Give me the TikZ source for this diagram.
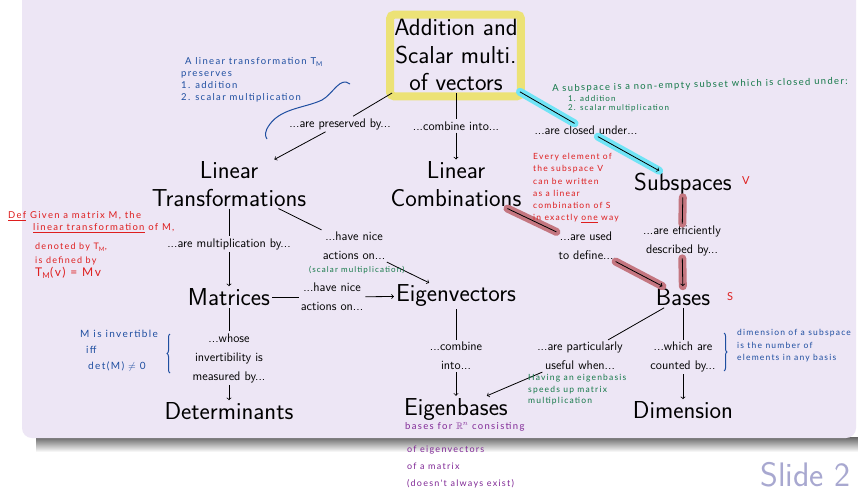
\documentclass[tikz,border=0pt]{standalone}
\usepackage{amsmath,amssymb}
\usepackage{fontspec}
\usetikzlibrary{positioning,decorations.pathreplacing}
\newfontfamily\handfont[LetterSpace=14]{Lato}
\definecolor{slidebg}{RGB}{237,230,245}
\definecolor{slidenum}{RGB}{168,168,208}
\definecolor{hlyellow}{RGB}{236,226,118}
\definecolor{hlcyan}{RGB}{112,228,246}
\definecolor{hlred}{RGB}{196,118,128}
\definecolor{noteblue}{RGB}{30,78,160}
\definecolor{notegreen}{RGB}{20,120,72}
\definecolor{notered}{RGB}{222,30,30}
\definecolor{notepurple}{RGB}{128,40,150}
\tikzset{
  concept/.style={font=\sffamily\fontsize{24.5}{27.5}\selectfont, align=center, inner sep=2pt},
  link/.style={font=\sffamily\fontsize{12.5}{19}\selectfont, align=center, inner sep=2pt},
  note/.style={font=\handfont\fontsize{9.5}{12}\selectfont, align=left, anchor=west, inner sep=0pt},
  hl/.style={line width=8pt, line cap=round},
}
\newcommand{\conn}[3]{ \draw[line width=0.8pt] (#1) -- (#2); \draw[line width=0.8pt, ->] (#2) -- (#3);}
\newcommand{\hilite}[3]{ \draw[hl, #1] (#2) -- (#3);}
\begin{document}
\begin{tikzpicture}[x=1pt, y=-1pt]
        \useasboundingbox (0,0) rectangle (858,492);
        % slide
        \fill[white] (0,0) rectangle (858,492);
        \shade[top color=black!60, bottom color=white] (36,437) rectangle (858,452);
        \fill[slidebg, rounded corners=10pt] (22,-20) rectangle (856,438);
        \node[font=\sffamily\fontsize{34}{40}\selectfont, text=slidenum, anchor=east, inner sep=0pt] (slide) at (851,475) {Slide 2};
        % concepts
        \node[concept] (vec) at (456,55) {Addition and\\Scalar multi.\\of vectors};
        \node[concept] (lt) at (229,184) {Linear\\Transformations};
        \node[concept] (lc) at (456,184) {Linear\\Combinations};
        \node[concept] (sub) at (683,184) {Subspaces};
        \node[concept] (mat) at (229,297) {Matrices};
        \node[concept] (eig) at (456,296) {Eigenvectors};
        \node[concept] (bas) at (683,297) {Bases};
        \node[concept] (det) at (229,411) {Determinants};
        \node[concept] (eb) at (456,409) {Eigenbases};
        \node[concept] (dim) at (683,410) {Dimension};
        % links
        \node[link] (pres) at (340,124) {...are preserved by...};
        \node[link] (comb) at (456,126) {...combine into...};
        \node[link] (clos) at (586,130) {...are closed under...};
        \node[link] (mult) at (229,244) {...are multiplication by...};
        \node[link] (nice) at (354,246) {...have nice\\actions on...};
        \node[link] (nicem) at (332,297) {...have nice\\actions on...};
        \node[link] (used) at (586,246) {...are used\\to define...};
        \node[link] (eff) at (682,241) {...are efficiently\\described by...};
        \node[link] (inv) at (229,358) {...whose\\invertibility is\\measured by...};
        \node[link] (combe) at (456,356) {...combine\\into...};
        \node[link] (useful) at (580,356) {...are particularly\\useful when...};
        \node[link] (count) at (683,357) {...which are\\counted by...};
        % highlights
        \draw[hlyellow, line width=8pt, rounded corners=4pt] ([shift={(-2,3)}]vec.south west) rectangle ([shift={(1,-2)}]vec.north east);
        \hilite{hlcyan}{vec}{clos}
        \hilite{hlcyan}{clos}{sub}
        \hilite{hlred}{lc}{used}
        \hilite{hlred}{used}{bas}
        \hilite{hlred}{sub}{eff}
        \hilite{hlred}{eff}{bas}
        % connectors
        \conn{vec}{pres}{lt}
        \conn{vec}{comb}{lc}
        \conn{vec}{clos}{sub}
        \conn{lt}{mult}{mat}
        \conn{lt}{nice}{eig}
        \conn{mat}{nicem}{eig}
        \conn{lc}{used}{bas}
        \conn{sub}{eff}{bas}
        \conn{mat}{inv}{det}
        \conn{eig}{combe}{eb}
        \conn{bas}{useful}{eb}
        \conn{bas}{count}{dim}
        % notes
        \node[note, text=noteblue] (ntm) at (181,80) {\hspace*{4pt}A linear transformation T\textsubscript{M}\\preserves\\1. addition\\2. scalar multiplication};
        \draw[noteblue, line width=1pt] (350,84) .. controls (340,76) and (333,94) .. (322,100) .. controls (305,108) and (282,108) .. (270,124) .. controls (264,132) and (265,136) .. (267,139);
        \node[note, text=notegreen, rotate=1.5] (nsub) at (552,89) {A subspace is a non-empty subset which is closed under:};
        \node[note, text=notegreen, font=\handfont\fontsize{8}{9}\selectfont] (nsubl) at (568,104) {1. addition\\2. scalar multiplication};
        \node[note, text=notered] (ndef) at (8,222) {\underline{Def} Given a matrix M, the\\\hspace*{25pt}\underline{linear transformation} of M,};
        \node[note, text=notered, font=\handfont\fontsize{9}{13.5}\selectfont] (ndefb) at (35,261) {denoted by T\textsubscript{M},\\is defined by\\{\fontsize{12}{13.5}\selectfont T\textsubscript{M}(v) = Mv}};
        \node[note, text=notered, font=\handfont\fontsize{8.5}{12.2}\selectfont] (nev) at (533,188) {Every element of\\the subspace V\\can be written\\as a linear\\combination of S\\in exactly \underline{one} way};
        \node[note, text=notered, font=\handfont\fontsize{11}{12}\selectfont] (nv) at (742,181) {V};
        \node[note, text=notered, font=\handfont\fontsize{11}{12}\selectfont] (ns) at (727,297) {S};
        \node[note, text=notegreen, font=\handfont\fontsize{8}{10}\selectfont] (nscal) at (309,270) {(scalar multiplication)};
        \node[note, text=noteblue, font=\handfont\fontsize{10}{16}\selectfont] (ninv) at (80,351) {M is invertible\\\hspace*{6pt}iff\\\hspace*{8pt}det(M) $\neq$ 0};
        \draw[noteblue, line width=1pt, decorate, decoration={brace, amplitude=3pt}] (170,373) -- (170,334);
        \node[note, text=notegreen, font=\handfont\fontsize{8.5}{11.5}\selectfont] (nhav) at (528,390) {Having an eigenbasis\\speeds up matrix\\multiplication};
        \node[note, text=noteblue, font=\handfont\fontsize{8.5}{12.5}\selectfont] (ndim) at (737,346) {dimension of a subspace\\is the number of\\elements in any basis};
        \draw[noteblue, line width=1pt, decorate, decoration={brace, amplitude=3pt}] (724,333) -- (724,371);
        \node[note, text=notepurple] (nbas) at (405,427) {bases for $\mathbb{R}^n$ consisting};
        \node[note, text=notepurple, font=\handfont\fontsize{9}{17}\selectfont] (nbasb) at (407,467) {of eigenvectors\\of a matrix\\(doesn't always exist)};
\end{tikzpicture}
\end{document}
